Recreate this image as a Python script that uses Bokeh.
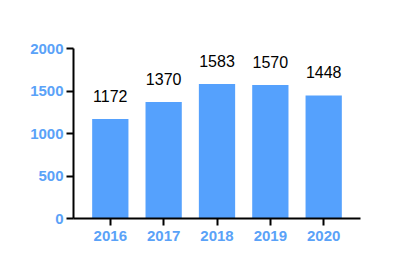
from bokeh.plotting import figure
from bokeh.models import Range1d, FixedTicker, ColumnDataSource
from bokeh.core.properties import value
from bokeh.embed import file_html
from bokeh.resources import INLINE

years = ["2016", "2017", "2018", "2019", "2020"]
counts = [1172, 1370, 1583, 1570, 1448]
y_ticks = [0, 500, 1000, 1500, 2000]

BAR = "#55a1fd"
LBL = "#5aa2f8"
FONT = "Liberation Sans"

xs = list(range(len(years)))
src = ColumnDataSource(dict(x=xs, top=counts, label=[str(c) for c in counts]))

p = figure(width=417, height=275, output_backend="svg", toolbar_location=None,
           x_range=Range1d(-0.69, len(years) - 1 + 0.69), y_range=Range1d(0, 2000),
           min_border_left=73, min_border_right=57, min_border_top=48, min_border_bottom=57)
p.outline_line_color = None
p.xgrid.visible = False
p.ygrid.visible = False
p.background_fill_color = "white"
p.border_fill_color = "white"

p.vbar(x="x", top="top", width=0.68, bottom=0, source=src, fill_color=BAR, line_color=None)
p.text(x="x", y="top", text="label", source=src, text_align="center", text_baseline="middle",
       y_offset=-23, text_font=value(FONT), text_font_size="16px", text_color="black")

p.xaxis.ticker = FixedTicker(ticks=xs)
p.xaxis.major_label_overrides = {i: y for i, y in enumerate(years)}
p.yaxis.ticker = FixedTicker(ticks=y_ticks)
for ax in (p.xaxis, p.yaxis):
    ax.axis_line_color = "black"
    ax.axis_line_width = 2
    ax.major_tick_line_color = "black"
    ax.major_tick_line_width = 2
    ax.major_tick_out = 7
    ax.major_tick_in = 0
    ax.minor_tick_line_color = None
    ax.major_label_text_color = LBL
    ax.major_label_text_font = FONT
    ax.major_label_text_font_style = "bold"
    ax.major_label_text_font_size = "15px"
p.xaxis.major_label_standoff = 5
p.yaxis.major_label_standoff = 3

open("out.html", "w").write(file_html(p, INLINE))
